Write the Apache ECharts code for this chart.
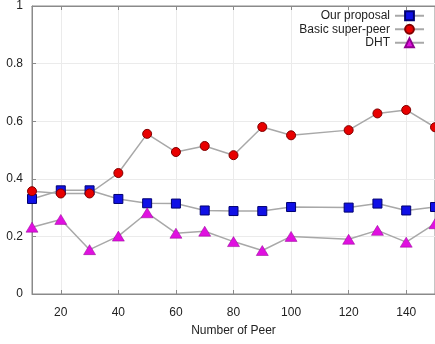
<!DOCTYPE html>
<html>
<head>
<meta charset="utf-8">
<script src="https://cdn.jsdelivr.net/npm/echarts@6/dist/echarts.min.js"></script>
<style>html,body{margin:0;padding:0;background:#fff;}#c{width:435px;height:344px;}</style>
</head>
<body>
<div id="c"></div>
<script>
const peers = [10, 20, 30, 40, 50, 60, 70, 80, 90, 100, 120, 130, 140, 150];
const ourProposal = [0.33, 0.36, 0.36, 0.33, 0.315, 0.314, 0.29, 0.288, 0.288, 0.302, 0.30, 0.314, 0.29, 0.302];
const basicSuperPeer = [0.357, 0.349, 0.349, 0.42, 0.556, 0.493, 0.514, 0.482, 0.58, 0.551, 0.569, 0.627, 0.639, 0.579];
const dht = [0.232, 0.259, 0.154, 0.201, 0.282, 0.211, 0.218, 0.182, 0.151, 0.2, 0.19, 0.221, 0.18, 0.244];
const seriesNames = ['Our proposal', 'Basic super-peer', 'DHT'];
const xName = 'Number of Peer';

const FONT = "'Liberation Sans Narrow', 'Arial Narrow', 'Liberation Sans', sans-serif";
const pairs = ys => peers.map((x, i) => [x, ys[i]]);

const chart = echarts.init(document.getElementById('c'), null, {renderer: 'canvas'});
const lineStyle = {color: '#a8a8a8', width: 1.5};
chart.setOption({
  animation: false,
  backgroundColor: '#fff',
  textStyle: {fontFamily: FONT},
  grid: {left: 32, right: -3, top: 6, bottom: 50, show: true, borderColor: '#8a8a8a', borderWidth: 1},
  legend: {
    orient: 'vertical', right: 10, top: 9, align: 'right', padding: 0,
    itemWidth: 29, itemHeight: 11, itemGap: 0,
    textStyle: {fontFamily: FONT, fontSize: 12, color: '#222', lineHeight: 13.5},
    data: seriesNames
  },
  xAxis: [{
    type: 'value', min: 10, max: 150, splitNumber: 7, minInterval: 20, maxInterval: 20,
    name: xName, nameLocation: 'middle', nameGap: 31,
    nameTextStyle: {fontFamily: FONT, fontSize: 12, color: '#222'},
    axisLine: {lineStyle: {color: '#8a8a8a'}},
    axisTick: {inside: true, length: 4, lineStyle: {color: '#8a8a8a'}},
    axisLabel: {showMinLabel: false, showMaxLabel: false, margin: 13, fontFamily: FONT, fontSize: 12, color: '#222'},
    splitLine: {show: true, lineStyle: {color: '#ebebeb', width: 1}}
  }, {
    type: 'value', position: 'top', min: 10, max: 150, splitNumber: 7, minInterval: 20, maxInterval: 20,
    axisLine: {show: true, lineStyle: {color: '#8a8a8a'}},
    axisTick: {inside: true, length: 4, lineStyle: {color: '#8a8a8a'}},
    axisLabel: {show: false}, splitLine: {show: false}
  }],
  yAxis: {
    type: 'value', min: 0, max: 1, interval: 0.2,
    axisLine: {show: true, lineStyle: {color: '#8a8a8a'}},
    axisTick: {show: true, inside: true, length: 4, lineStyle: {color: '#8a8a8a'}},
    axisLabel: {margin: 9, fontFamily: FONT, fontSize: 12, color: '#222'},
    splitLine: {show: true, lineStyle: {color: '#ebebeb', width: 1}}
  },
  series: [
    {name: seriesNames[0], type: 'line', data: pairs(ourProposal), symbol: 'rect', symbolSize: 9,
     lineStyle, itemStyle: {color: '#1010e6', borderColor: '#000070', borderWidth: 1}, z: 3},
    {name: seriesNames[1], type: 'line', data: pairs(basicSuperPeer), symbol: 'circle', symbolSize: 9,
     lineStyle, itemStyle: {color: '#e80000', borderColor: '#800000', borderWidth: 1}, z: 3},
    {name: seriesNames[2], type: 'line', data: pairs(dht), symbol: 'triangle', symbolSize: [12, 10],
     lineStyle, itemStyle: {color: '#e010e0', borderColor: '#900090', borderWidth: 0.5}, z: 3}
  ]
});
</script>
</body>
</html>
